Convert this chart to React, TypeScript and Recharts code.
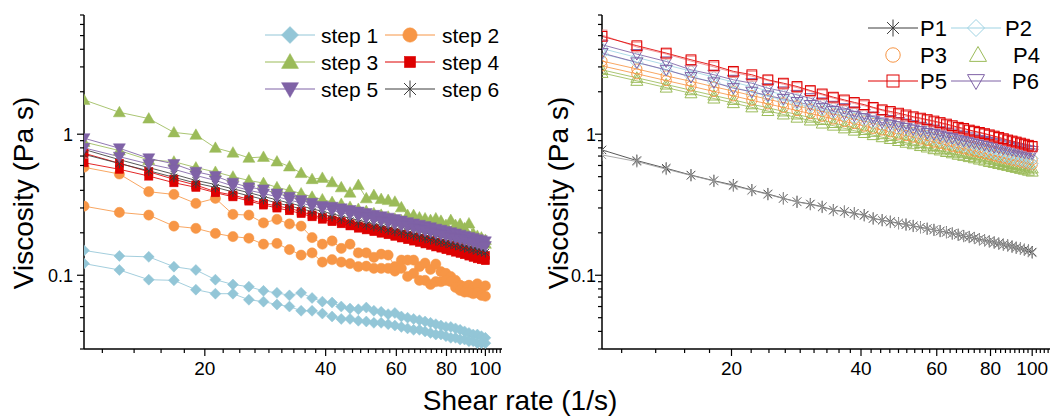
import { LineChart, Line, XAxis, YAxis } from "recharts";

const FONT = "'Liberation Sans', Arial, sans-serif";

// shear rate points (1/s)
const rateL = [10, 12.25, 14.5, 16.75, 19, 21.25, 23.5, 25.75, 28, 30.25, 32.5, 34.75, 37, 39.25, 41.5, 43.75, 46, 48.25, 50.5, 52.75, 55, 57.25, 59.5, 61.75, 64, 66.25, 68.5, 70.75, 73, 75.25, 77.5, 79.75, 82, 84.25, 86.5, 88.75, 91, 93.25, 95.5, 97.75, 100];
const rateR = [10, 12.05, 14.1, 16.1, 18.2, 20.2, 22.3, 24.3, 26.4, 28.4, 30.5, 32.5, 34.5, 36.6, 38.6, 40.7, 42.7, 44.8, 46.8, 48.9, 50.9, 52.9, 55, 57, 59.1, 61.1, 63.2, 65.2, 67.3, 69.3, 71.4, 73.4, 75.4, 77.5, 79.5, 81.6, 83.6, 85.7, 87.7, 89.8, 91.8, 93.9, 95.9, 98, 100];

// left panel: steps, two runs each (Pa s)
const step1a = [0.150, 0.137, 0.135, 0.115, 0.109, 0.093, 0.086, 0.083, 0.0775, 0.075, 0.072, 0.075, 0.069, 0.065, 0.064, 0.060, 0.058, 0.0574, 0.059, 0.056, 0.055, 0.053, 0.054, 0.051, 0.050, 0.049, 0.048, 0.047, 0.046, 0.045, 0.044, 0.043, 0.043, 0.042, 0.041, 0.040, 0.039, 0.038, 0.038, 0.037, 0.036];
const step1b = [0.121, 0.109, 0.093, 0.092, 0.079, 0.074, 0.074, 0.067, 0.065, 0.062, 0.060, 0.056, 0.056, 0.0535, 0.051, 0.049, 0.049, 0.0476, 0.047, 0.046, 0.046, 0.045, 0.044, 0.043, 0.042, 0.041, 0.041, 0.040, 0.039, 0.038, 0.038, 0.037, 0.036, 0.036, 0.035, 0.035, 0.034, 0.034, 0.033, 0.033, 0.033];
const step2a = [0.583, 0.522, 0.391, 0.374, 0.323, 0.351, 0.27, 0.267, 0.235, 0.249, 0.231, 0.223, 0.185, 0.166, 0.175, 0.155, 0.166, 0.144, 0.144, 0.134, 0.141, 0.139, 0.115, 0.128, 0.128, 0.128, 0.115, 0.122, 0.11, 0.12, 0.106, 0.103, 0.098, 0.092, 0.085, 0.083, 0.085, 0.082, 0.087, 0.080, 0.084];
const step2b = [0.309, 0.279, 0.267, 0.223, 0.215, 0.198, 0.188, 0.183, 0.166, 0.168, 0.152, 0.139, 0.144, 0.124, 0.129, 0.124, 0.121, 0.115, 0.116, 0.112, 0.112, 0.112, 0.107, 0.112, 0.098, 0.103, 0.092, 0.092, 0.086, 0.09, 0.09, 0.092, 0.09, 0.082, 0.078, 0.076, 0.076, 0.074, 0.075, 0.072, 0.071];
const step3a = [1.75, 1.43, 1.29, 1.03, 0.99, 0.80, 0.74, 0.68, 0.69, 0.64, 0.59, 0.53, 0.48, 0.49, 0.456, 0.42, 0.385, 0.436, 0.351, 0.37, 0.347, 0.341, 0.332, 0.303, 0.267, 0.267, 0.257, 0.253, 0.246, 0.253, 0.243, 0.227, 0.246, 0.227, 0.231, 0.215, 0.233, 0.198, 0.19, 0.185, 0.178];
const step3b = [0.88, 0.765, 0.657, 0.639, 0.58, 0.54, 0.50, 0.47, 0.45, 0.42, 0.40, 0.38, 0.36, 0.345, 0.33, 0.32, 0.305, 0.295, 0.285, 0.275, 0.268, 0.26, 0.252, 0.245, 0.238, 0.232, 0.226, 0.22, 0.214, 0.209, 0.204, 0.2, 0.195, 0.19, 0.186, 0.183, 0.179, 0.176, 0.173, 0.17, 0.167];
const step4a = [0.733, 0.622, 0.542, 0.479, 0.436, 0.391, 0.37, 0.345, 0.323, 0.31, 0.298, 0.283, 0.267, 0.257, 0.246, 0.24, 0.231, 0.223, 0.218, 0.213, 0.208, 0.203, 0.199, 0.195, 0.19, 0.186, 0.182, 0.178, 0.175, 0.171, 0.168, 0.165, 0.162, 0.159, 0.156, 0.153, 0.15, 0.147, 0.144, 0.141, 0.138];
const step4b = [0.628, 0.564, 0.505, 0.453, 0.42, 0.385, 0.36, 0.336, 0.315, 0.3, 0.287, 0.274, 0.26, 0.25, 0.24, 0.232, 0.224, 0.216, 0.21, 0.204, 0.199, 0.194, 0.189, 0.184, 0.179, 0.175, 0.171, 0.167, 0.163, 0.159, 0.156, 0.152, 0.149, 0.146, 0.143, 0.14, 0.137, 0.134, 0.131, 0.129, 0.127];
const step5a = [0.937, 0.795, 0.675, 0.615, 0.542, 0.505, 0.453, 0.42, 0.406, 0.38, 0.36, 0.341, 0.326, 0.31, 0.306, 0.298, 0.29, 0.283, 0.276, 0.268, 0.262, 0.256, 0.25, 0.244, 0.238, 0.233, 0.228, 0.223, 0.219, 0.214, 0.21, 0.206, 0.202, 0.198, 0.194, 0.19, 0.187, 0.184, 0.18, 0.177, 0.174];
const step5b = [0.80, 0.693, 0.615, 0.564, 0.51, 0.47, 0.43, 0.40, 0.38, 0.36, 0.342, 0.325, 0.31, 0.298, 0.288, 0.278, 0.27, 0.262, 0.255, 0.248, 0.242, 0.236, 0.23, 0.225, 0.22, 0.215, 0.21, 0.206, 0.202, 0.198, 0.194, 0.19, 0.186, 0.183, 0.179, 0.176, 0.173, 0.17, 0.167, 0.164, 0.161];
const step6a = [0.78, 0.66, 0.58, 0.52, 0.47, 0.44, 0.41, 0.385, 0.362, 0.342, 0.325, 0.31, 0.296, 0.284, 0.273, 0.263, 0.254, 0.246, 0.239, 0.232, 0.226, 0.22, 0.215, 0.21, 0.205, 0.2, 0.196, 0.192, 0.188, 0.184, 0.181, 0.177, 0.174, 0.171, 0.168, 0.165, 0.162, 0.16, 0.157, 0.155, 0.152];
const step6b = [0.72, 0.62, 0.55, 0.495, 0.45, 0.42, 0.39, 0.366, 0.345, 0.326, 0.31, 0.296, 0.283, 0.271, 0.261, 0.251, 0.243, 0.235, 0.228, 0.222, 0.216, 0.21, 0.205, 0.2, 0.195, 0.191, 0.187, 0.183, 0.179, 0.176, 0.172, 0.169, 0.166, 0.163, 0.16, 0.157, 0.155, 0.152, 0.15, 0.147, 0.145];

// right panel: P1..P6, two runs each (Pa s)
const p1a = [0.774, 0.65, 0.573, 0.513, 0.468, 0.436, 0.402, 0.377, 0.351, 0.332, 0.32, 0.306, 0.29, 0.283, 0.275, 0.267, 0.253, 0.246, 0.24, 0.234, 0.229, 0.224, 0.219, 0.214, 0.21, 0.206, 0.202, 0.198, 0.194, 0.19, 0.187, 0.184, 0.18, 0.177, 0.174, 0.171, 0.168, 0.165, 0.163, 0.16, 0.157, 0.155, 0.152, 0.15, 0.146];
const p1b = [0.713, 0.64, 0.565, 0.51, 0.465, 0.43, 0.4, 0.374, 0.35, 0.331, 0.318, 0.304, 0.289, 0.281, 0.273, 0.265, 0.252, 0.245, 0.238, 0.233, 0.228, 0.223, 0.218, 0.213, 0.209, 0.205, 0.201, 0.197, 0.193, 0.189, 0.186, 0.183, 0.179, 0.176, 0.173, 0.17, 0.167, 0.164, 0.162, 0.159, 0.156, 0.154, 0.151, 0.148, 0.144];
const p2a = [4.05, 3.50, 3.10, 2.80, 2.54, 2.34, 2.17, 2.03, 1.90, 1.79, 1.70, 1.62, 1.54, 1.47, 1.41, 1.36, 1.31, 1.26, 1.22, 1.18, 1.14, 1.10, 1.07, 1.04, 1.01, 0.987, 0.961, 0.938, 0.915, 0.895, 0.874, 0.855, 0.838, 0.82, 0.804, 0.788, 0.773, 0.758, 0.745, 0.731, 0.718, 0.706, 0.695, 0.683, 0.672];
const p2b = [3.72, 3.22, 2.85, 2.57, 2.33, 2.15, 1.99, 1.86, 1.75, 1.65, 1.56, 1.48, 1.42, 1.35, 1.30, 1.25, 1.20, 1.16, 1.12, 1.08, 1.05, 1.01, 0.984, 0.957, 0.93, 0.907, 0.883, 0.862, 0.841, 0.822, 0.803, 0.786, 0.77, 0.753, 0.738, 0.724, 0.71, 0.696, 0.684, 0.671, 0.66, 0.648, 0.638, 0.627, 0.618];
const p3a = [3.30, 2.90, 2.59, 2.37, 2.17, 2.02, 1.88, 1.77, 1.67, 1.59, 1.51, 1.45, 1.39, 1.33, 1.28, 1.24, 1.19, 1.16, 1.12, 1.09, 1.06, 1.03, 1.00, 0.977, 0.95, 0.931, 0.908, 0.888, 0.868, 0.851, 0.835, 0.818, 0.802, 0.789, 0.772, 0.759, 0.746, 0.733, 0.723, 0.71, 0.70, 0.69, 0.68, 0.668, 0.659];
const p3b = [3.05, 2.68, 2.40, 2.19, 2.01, 1.87, 1.74, 1.64, 1.55, 1.47, 1.40, 1.34, 1.28, 1.23, 1.19, 1.14, 1.10, 1.07, 1.04, 1.00, 0.976, 0.952, 0.924, 0.903, 0.878, 0.86, 0.839, 0.82, 0.802, 0.787, 0.772, 0.756, 0.741, 0.729, 0.714, 0.702, 0.689, 0.677, 0.668, 0.656, 0.647, 0.637, 0.628, 0.618, 0.609];
const p4a = [2.86, 2.51, 2.25, 2.05, 1.88, 1.75, 1.63, 1.54, 1.45, 1.38, 1.31, 1.26, 1.20, 1.15, 1.11, 1.07, 1.04, 1.00, 0.972, 0.941, 0.915, 0.892, 0.867, 0.847, 0.824, 0.807, 0.787, 0.769, 0.752, 0.738, 0.724, 0.709, 0.695, 0.684, 0.669, 0.658, 0.646, 0.635, 0.626, 0.615, 0.606, 0.598, 0.589, 0.579, 0.571];
const p4b = [2.72, 2.39, 2.14, 1.95, 1.79, 1.66, 1.55, 1.46, 1.38, 1.31, 1.25, 1.19, 1.15, 1.10, 1.06, 1.02, 0.985, 0.952, 0.925, 0.895, 0.87, 0.849, 0.824, 0.805, 0.783, 0.767, 0.748, 0.732, 0.715, 0.702, 0.688, 0.675, 0.661, 0.65, 0.636, 0.626, 0.615, 0.604, 0.596, 0.585, 0.577, 0.568, 0.56, 0.551, 0.543];
const p5a = [4.94, 4.24, 3.76, 3.37, 3.07, 2.79, 2.64, 2.43, 2.30, 2.18, 2.04, 1.93, 1.83, 1.75, 1.68, 1.62, 1.55, 1.49, 1.45, 1.41, 1.37, 1.33, 1.30, 1.27, 1.24, 1.21, 1.18, 1.15, 1.12, 1.10, 1.07, 1.05, 1.03, 1.01, 0.99, 0.97, 0.95, 0.93, 0.91, 0.895, 0.88, 0.865, 0.85, 0.835, 0.82];
const p5b = [5.05, 4.15, 3.70, 3.30, 3.00, 2.74, 2.58, 2.40, 2.26, 2.14, 2.01, 1.90, 1.80, 1.72, 1.65, 1.59, 1.53, 1.47, 1.42, 1.38, 1.34, 1.31, 1.28, 1.25, 1.22, 1.19, 1.16, 1.13, 1.11, 1.08, 1.06, 1.04, 1.02, 1.0, 0.98, 0.96, 0.94, 0.92, 0.90, 0.885, 0.87, 0.855, 0.84, 0.825, 0.81];
const p6a = [4.31, 3.70, 3.28, 2.86, 2.64, 2.43, 2.30, 2.12, 2.01, 1.90, 1.80, 1.68, 1.59, 1.53, 1.45, 1.39, 1.33, 1.28, 1.26, 1.22, 1.19, 1.16, 1.13, 1.10, 1.08, 1.05, 1.03, 1.01, 0.99, 0.97, 0.95, 0.93, 0.91, 0.895, 0.88, 0.865, 0.85, 0.835, 0.82, 0.81, 0.80, 0.79, 0.78, 0.77, 0.76];
const p6b = [3.76, 3.23, 2.86, 2.54, 2.33, 2.12, 2.0, 1.88, 1.78, 1.69, 1.61, 1.53, 1.46, 1.40, 1.35, 1.30, 1.25, 1.21, 1.17, 1.14, 1.11, 1.08, 1.05, 1.02, 1.0, 0.98, 0.96, 0.94, 0.92, 0.90, 0.885, 0.87, 0.855, 0.84, 0.825, 0.81, 0.80, 0.79, 0.78, 0.77, 0.76, 0.75, 0.74, 0.735, 0.73];

// axis ticks
const xMajor = [20, 40, 60, 80, 100];
const xTicks = [11.11, 13.33, 15.56, 17.78, 20, 22.22, 24.44, 26.67, 28.89, 31.11, 33.33, 35.56, 37.78, 40, 42.22, 44.44, 46.67, 48.89, 51.11, 53.33, 55.56, 57.78, 60, 62.22, 64.44, 66.67, 68.89, 71.11, 73.33, 75.56, 77.78, 80, 82.22, 84.44, 86.67, 88.89, 91.11, 93.33, 95.56, 97.78, 100, 102.22, 104.44, 106.67, 108.89];
const yMajor = [0.1, 1];
const yTicks = [0.03, 0.04, 0.05, 0.06, 0.07, 0.08, 0.09, 0.1, 0.2, 0.3, 0.4, 0.5, 0.6, 0.7, 0.8, 0.9, 1, 2, 3, 4, 5, 6, 7];

const BLUE = "#93c6d7";
const ORANGE = "#f79646";
const GREEN = "#9bbb59";
const RED = "#dd0000";
const PURPLE = "#7f62a6";
const DARK = "#3c3c3c";

type Shape = "diamond" | "circle" | "up" | "down" | "square" | "star";

function Marker({ shape, x, y, s, color, filled }: { shape: Shape; x: number; y: number; s: number; color: string; filled: boolean }) {
  const fill = filled ? color : "none";
  const sw = filled ? 0.5 : 1;
  if (shape === "diamond")
    return <polygon points={`${x},${y - s} ${x + s},${y} ${x},${y + s} ${x - s},${y}`} fill={fill} stroke={color} strokeWidth={sw} />;
  if (shape === "circle") return <circle cx={x} cy={y} r={s * 0.85} fill={fill} stroke={color} strokeWidth={sw} />;
  if (shape === "up")
    return <polygon points={`${x},${y - s} ${x + s},${y + s * 0.75} ${x - s},${y + s * 0.75}`} fill={fill} stroke={color} strokeWidth={sw} />;
  if (shape === "down")
    return <polygon points={`${x},${y + s} ${x + s},${y - s * 0.75} ${x - s},${y - s * 0.75}`} fill={fill} stroke={color} strokeWidth={sw} />;
  if (shape === "square")
    return <rect x={x - s * 0.75} y={y - s * 0.75} width={s * 1.5} height={s * 1.5} fill={fill} stroke={color} strokeWidth={sw} />;
  const d = s * 0.7;
  return (
    <g stroke={color} strokeWidth={1}>
      <line x1={x} y1={y - s} x2={x} y2={y + s} />
      <line x1={x - d} y1={y - d} x2={x + d} y2={y + d} />
      <line x1={x - d} y1={y + d} x2={x + d} y2={y - d} />
    </g>
  );
}

type Series = { key: string; xs: number[]; ys: number[]; color: string; shape: Shape; filled: boolean; size: number };

const leftSeries: Series[] = [
  { key: "s1a", xs: rateL, ys: step1a, color: BLUE, shape: "diamond", filled: true, size: 5.5 },
  { key: "s1b", xs: rateL, ys: step1b, color: BLUE, shape: "diamond", filled: true, size: 5.5 },
  { key: "s2a", xs: rateL, ys: step2a, color: ORANGE, shape: "circle", filled: true, size: 6 },
  { key: "s2b", xs: rateL, ys: step2b, color: ORANGE, shape: "circle", filled: true, size: 6 },
  { key: "s3a", xs: rateL, ys: step3a, color: GREEN, shape: "up", filled: true, size: 6 },
  { key: "s3b", xs: rateL, ys: step3b, color: GREEN, shape: "up", filled: true, size: 6 },
  { key: "s4a", xs: rateL, ys: step4a, color: RED, shape: "square", filled: true, size: 5.5 },
  { key: "s4b", xs: rateL, ys: step4b, color: RED, shape: "square", filled: true, size: 5.5 },
  { key: "s6a", xs: rateL, ys: step6a, color: DARK, shape: "star", filled: false, size: 5 },
  { key: "s6b", xs: rateL, ys: step6b, color: DARK, shape: "star", filled: false, size: 5 },
  { key: "s5a", xs: rateL, ys: step5a, color: PURPLE, shape: "down", filled: true, size: 6 },
  { key: "s5b", xs: rateL, ys: step5b, color: PURPLE, shape: "down", filled: true, size: 6 },
];

const rightSeries: Series[] = [
  { key: "p1a", xs: rateR, ys: p1a, color: DARK, shape: "star", filled: false, size: 6 },
  { key: "p1b", xs: rateR, ys: p1b, color: "#9a9a9a", shape: "star", filled: false, size: 6 },
  { key: "p4b", xs: rateR, ys: p4b, color: GREEN, shape: "up", filled: false, size: 6 },
  { key: "p4a", xs: rateR, ys: p4a, color: GREEN, shape: "up", filled: false, size: 6 },
  { key: "p3b", xs: rateR, ys: p3b, color: ORANGE, shape: "circle", filled: false, size: 6 },
  { key: "p3a", xs: rateR, ys: p3a, color: ORANGE, shape: "circle", filled: false, size: 6 },
  { key: "p2b", xs: rateR, ys: p2b, color: "#9fd3e3", shape: "diamond", filled: false, size: 6 },
  { key: "p2a", xs: rateR, ys: p2a, color: "#9fd3e3", shape: "diamond", filled: false, size: 6 },
  { key: "p6b", xs: rateR, ys: p6b, color: PURPLE, shape: "down", filled: false, size: 6 },
  { key: "p6a", xs: rateR, ys: p6a, color: PURPLE, shape: "down", filled: false, size: 6 },
  { key: "p5b", xs: rateR, ys: p5b, color: "#f08a8a", shape: "square", filled: false, size: 6.5 },
  { key: "p5a", xs: rateR, ys: p5a, color: "#e00000", shape: "square", filled: false, size: 6.5 },
];

const XTick = (props: any) => {
  const { x, y, payload } = props;
  const v = payload.value;
  const major = xMajor.includes(v);
  return (
    <g>
      <line x1={x} x2={x} y1={y} y2={y + (major ? 7 : 4)} stroke="#000" strokeWidth={1.2} />
      {major && (
        <text x={x} y={y + 26} textAnchor="middle" fontSize={19} fontFamily={FONT} fill="#000">
          {v}
        </text>
      )}
    </g>
  );
};

const makeYTick = (gap: number) => (props: any) => {
  const { x, y, payload } = props;
  const v = payload.value;
  const major = yMajor.includes(v);
  return (
    <g>
      <line x1={x} x2={x - (major ? 7 : 4)} y1={y} y2={y} stroke="#000" strokeWidth={1.2} />
      {major && (
        <text x={x - gap} y={y + 7} textAnchor="end" fontSize={18} fontFamily={FONT} fill="#000">
          {v}
        </text>
      )}
    </g>
  );
};
const YTickLeft = makeYTick(11);
const YTickRight = makeYTick(6);

function Panel({ series, width, yWidth, right, YTick }: { series: Series[]; width: number; yWidth: number; right: number; YTick: any }) {
  return (
    <LineChart width={width} height={416} margin={{ top: 15, right, bottom: 0, left: 0 }}>
      <XAxis
        type="number"
        dataKey="x"
        scale="log"
        domain={[10, 110]}
        allowDataOverflow
        ticks={xTicks}
        interval={0}
        tick={<XTick />}
        tickLine={false}
        tickSize={0}
        tickMargin={0}
        height={67}
        axisLine={{ stroke: "#000", strokeWidth: 1.5 }}
      />
      <YAxis
        type="number"
        scale="log"
        domain={[0.03, 7]}
        allowDataOverflow
        ticks={yTicks}
        interval={0}
        tick={<YTick />}
        tickLine={false}
        tickSize={0}
        tickMargin={0}
        width={yWidth}
        axisLine={{ stroke: "#000", strokeWidth: 1.5 }}
      />
      {series.map((s) => (
        <Line
          key={s.key}
          data={s.xs.map((x, i) => ({ x, y: s.ys[i] }))}
          dataKey="y"
          stroke={s.color}
          strokeWidth={1}
          strokeOpacity={0.85}
          isAnimationActive={false}
          activeDot={false}
          dot={(p: any) =>
            p.cx == null || p.cy == null ? (
              <g key={`${s.key}-${p.index}`} />
            ) : (
              <g key={`${s.key}-${p.index}`}>
                <Marker shape={s.shape} x={p.cx} y={p.cy} s={s.size} color={s.color} filled={s.filled} />
              </g>
            )
          }
        />
      ))}
    </LineChart>
  );
}

function LegendItem({ x, y, label, color, shape, filled, line, s, textX, size }: { x: number; y: number; label: string; color: string; shape: Shape; filled: boolean; line: boolean; s: number; textX: number; size: number }) {
  return (
    <g>
      {line && <line x1={x - 25} x2={x + 25} y1={y} y2={y} stroke={color} strokeWidth={1} />}
      <Marker shape={shape} x={x} y={y} s={s} color={color} filled={filled} />
      <text x={textX} y={y + size * 0.36} fontSize={size} fontFamily={FONT} fill="#000">
        {label}
      </text>
    </g>
  );
}

export default function App() {
  return (
    <div style={{ position: "absolute", left: 0, top: 0, width: 1052, height: 416, background: "#fff" }}>
      <div style={{ position: "absolute", left: 0, top: 0 }}>
        <Panel series={leftSeries} width={520} yWidth={84} right={18} YTick={YTickLeft} />
      </div>
      <div style={{ position: "absolute", left: 530, top: 0 }}>
        <Panel series={rightSeries} width={522} yWidth={72} right={2} YTick={YTickRight} />
      </div>
      <svg width={1052} height={416} style={{ position: "absolute", left: 0, top: 0, pointerEvents: "none" }}>
        <text transform="translate(33,193) rotate(-90)" textAnchor="middle" fontSize={28} fontFamily={FONT} fill="#000">
          Viscosity (Pa s)
        </text>
        <text transform="translate(568,193) rotate(-90)" textAnchor="middle" fontSize={28} fontFamily={FONT} fill="#000">
          Viscosity (Pa s)
        </text>
        <text x={520} y={410} textAnchor="middle" fontSize={28} fontFamily={FONT} fill="#000">
          Shear rate (1/s)
        </text>

        <LegendItem x={290} y={35} label="step 1" color={BLUE} shape="diamond" filled line s={8.5} textX={321} size={21} />
        <LegendItem x={410} y={35} label="step 2" color={ORANGE} shape="circle" filled line s={8.5} textX={442} size={21} />
        <LegendItem x={290} y={62} label="step 3" color={GREEN} shape="up" filled line s={8.5} textX={321} size={21} />
        <LegendItem x={410} y={62} label="step 4" color={RED} shape="square" filled line s={7.5} textX={442} size={21} />
        <LegendItem x={290} y={89} label="step 5" color={PURPLE} shape="down" filled line s={8.5} textX={321} size={21} />
        <LegendItem x={410} y={89} label="step 6" color={DARK} shape="star" filled={false} line s={8.5} textX={442} size={21} />

        <LegendItem x={893} y={28} label="P1" color={DARK} shape="star" filled={false} line s={8.5} textX={920} size={22} />
        <LegendItem x={976} y={28} label="P2" color="#9fd3e3" shape="diamond" filled={false} line s={8.5} textX={1005} size={22} />
        <LegendItem x={893} y={55} label="P3" color={ORANGE} shape="circle" filled={false} line={false} s={8.5} textX={920} size={22} />
        <LegendItem x={978} y={55} label="P4" color={GREEN} shape="up" filled={false} line={false} s={8.5} textX={1013} size={22} />
        <LegendItem x={893} y={81} label="P5" color="#e00000" shape="square" filled={false} line s={8} textX={920} size={22} />
        <LegendItem x={976} y={81} label="P6" color={PURPLE} shape="down" filled={false} line s={8.5} textX={1012} size={22} />
      </svg>
    </div>
  );
}
